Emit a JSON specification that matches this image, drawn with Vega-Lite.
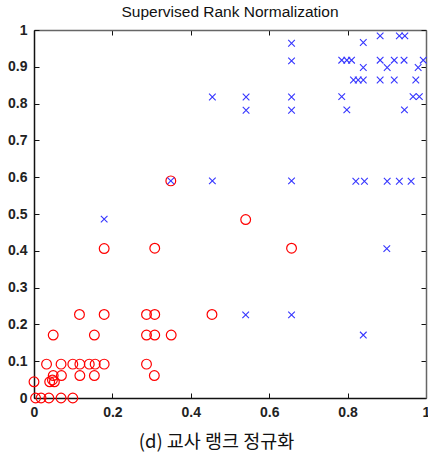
{
  "$schema": "https://vega.github.io/schema/vega-lite/v6.json",
  "autosize": "none",
  "padding": {"left": 34, "top": 30, "right": 2, "bottom": 55},
  "width": 392,
  "height": 368,
  "title": {"text": "Supervised Rank Normalization", "font": "Liberation Sans", "fontSize": 15.5, "fontWeight": "normal", "color": "#111", "offset": 3, "anchor": "middle"},
  "config": {"view": {"stroke": null}},
  "data": {"values": [
    {"x": 0.179, "y": 0.486, "c": "neg"}, {"x": 0.349, "y": 0.590, "c": "neg"}, {"x": 0.455, "y": 0.818, "c": "neg"}, {"x": 0.455, "y": 0.590, "c": "neg"},
    {"x": 0.541, "y": 0.818, "c": "neg"}, {"x": 0.541, "y": 0.782, "c": "neg"}, {"x": 0.540, "y": 0.226, "c": "neg"}, {"x": 0.657, "y": 0.964, "c": "neg"},
    {"x": 0.657, "y": 0.916, "c": "neg"}, {"x": 0.657, "y": 0.818, "c": "neg"}, {"x": 0.657, "y": 0.782, "c": "neg"}, {"x": 0.657, "y": 0.590, "c": "neg"},
    {"x": 0.657, "y": 0.226, "c": "neg"}, {"x": 0.785, "y": 0.918, "c": "neg"}, {"x": 0.798, "y": 0.918, "c": "neg"}, {"x": 0.810, "y": 0.918, "c": "neg"},
    {"x": 0.785, "y": 0.819, "c": "neg"}, {"x": 0.798, "y": 0.783, "c": "neg"}, {"x": 0.815, "y": 0.864, "c": "neg"}, {"x": 0.827, "y": 0.864, "c": "neg"},
    {"x": 0.840, "y": 0.864, "c": "neg"}, {"x": 0.840, "y": 0.898, "c": "neg"}, {"x": 0.840, "y": 0.966, "c": "neg"}, {"x": 0.821, "y": 0.589, "c": "neg"},
    {"x": 0.843, "y": 0.589, "c": "neg"}, {"x": 0.840, "y": 0.171, "c": "neg"}, {"x": 0.883, "y": 0.984, "c": "neg"}, {"x": 0.883, "y": 0.918, "c": "neg"},
    {"x": 0.883, "y": 0.864, "c": "neg"}, {"x": 0.901, "y": 0.898, "c": "neg"}, {"x": 0.901, "y": 0.589, "c": "neg"}, {"x": 0.900, "y": 0.406, "c": "neg"},
    {"x": 0.919, "y": 0.918, "c": "neg"}, {"x": 0.919, "y": 0.864, "c": "neg"}, {"x": 0.932, "y": 0.589, "c": "neg"}, {"x": 0.932, "y": 0.984, "c": "neg"},
    {"x": 0.946, "y": 0.984, "c": "neg"}, {"x": 0.944, "y": 0.918, "c": "neg"}, {"x": 0.945, "y": 0.783, "c": "neg"}, {"x": 0.962, "y": 0.589, "c": "neg"},
    {"x": 0.967, "y": 0.819, "c": "neg"}, {"x": 0.983, "y": 0.819, "c": "neg"}, {"x": 0.974, "y": 0.864, "c": "neg"}, {"x": 0.980, "y": 0.898, "c": "neg"},
    {"x": 0.993, "y": 0.918, "c": "neg"},
    {"x": 0.349, "y": 0.590, "c": "pos"}, {"x": 0.540, "y": 0.485, "c": "pos"}, {"x": 0.657, "y": 0.407, "c": "pos"}, {"x": 0.308, "y": 0.407, "c": "pos"},
    {"x": 0.179, "y": 0.406, "c": "pos"}, {"x": 0.454, "y": 0.227, "c": "pos"}, {"x": 0.308, "y": 0.227, "c": "pos"}, {"x": 0.287, "y": 0.227, "c": "pos"},
    {"x": 0.179, "y": 0.227, "c": "pos"}, {"x": 0.116, "y": 0.227, "c": "pos"}, {"x": 0.049, "y": 0.171, "c": "pos"}, {"x": 0.154, "y": 0.171, "c": "pos"},
    {"x": 0.287, "y": 0.171, "c": "pos"}, {"x": 0.308, "y": 0.171, "c": "pos"}, {"x": 0.350, "y": 0.171, "c": "pos"},
    {"x": 0.032, "y": 0.092, "c": "pos"}, {"x": 0.069, "y": 0.092, "c": "pos"}, {"x": 0.099, "y": 0.092, "c": "pos"}, {"x": 0.117, "y": 0.092, "c": "pos"},
    {"x": 0.141, "y": 0.092, "c": "pos"}, {"x": 0.156, "y": 0.092, "c": "pos"}, {"x": 0.179, "y": 0.092, "c": "pos"}, {"x": 0.287, "y": 0.092, "c": "pos"},
    {"x": 0.049, "y": 0.061, "c": "pos"}, {"x": 0.070, "y": 0.061, "c": "pos"}, {"x": 0.117, "y": 0.061, "c": "pos"}, {"x": 0.154, "y": 0.061, "c": "pos"},
    {"x": 0.307, "y": 0.061, "c": "pos"},
    {"x": 0.000, "y": 0.044, "c": "pos"}, {"x": 0.040, "y": 0.044, "c": "pos"}, {"x": 0.047, "y": 0.049, "c": "pos"}, {"x": 0.052, "y": 0.044, "c": "pos"},
    {"x": 0.004, "y": 0.000, "c": "pos"}, {"x": 0.018, "y": 0.000, "c": "pos"}, {"x": 0.038, "y": 0.000, "c": "pos"}, {"x": 0.069, "y": 0.000, "c": "pos"},
    {"x": 0.099, "y": 0.000, "c": "pos"}
  ]},
  "resolve": {"axis": {"x": "independent", "y": "independent"}},
  "layer": [
    {
      "transform": [{"filter": "datum.c === 'pos'"}],
      "mark": {"type": "point", "shape": "circle", "filled": false, "stroke": "#ff0000", "strokeWidth": 1.2, "size": 95, "clip": false, "opacity": 1},
      "encoding": {
        "x": {"field": "x", "type": "quantitative", "scale": {"domain": [0, 1], "nice": false, "zero": false},
          "axis": {"orient": "bottom", "title": "(d) 교사 랭크 정규화", "titleFont": "Noto Sans CJK KR", "titleFontSize": 18.5, "titleFontWeight": "normal", "titleColor": "#111",
            "titleX": 182, "titleY": 49, "titleBaseline": "alphabetic", "titleAlign": "center", "titleAnchor": null,
            "values": [0, 0.2, 0.4, 0.6, 0.8, 1], "format": "~g", "grid": false, "tickSize": -5, "tickColor": "#111", "tickWidth": 1,
            "domainColor": "#111", "domainWidth": 1.5, "labelFont": "Liberation Sans", "labelFontSize": 14, "labelFontWeight": "bold", "labelColor": "#222",
            "labelPadding": 12, "labelFlush": false, "labelOverlap": false}},
        "y": {"field": "y", "type": "quantitative", "scale": {"domain": [0, 1], "nice": false, "zero": false},
          "axis": {"orient": "left", "title": null, "values": [0, 0.1, 0.2, 0.3, 0.4, 0.5, 0.6, 0.7, 0.8, 0.9, 1], "format": "~g", "grid": false,
            "tickSize": -5, "tickColor": "#111", "tickWidth": 1, "domainColor": "#111", "domainWidth": 1.5,
            "labelFont": "Liberation Sans", "labelFontSize": 14, "labelFontWeight": "bold", "labelColor": "#222", "labelPadding": 12, "labelFlush": false, "labelOverlap": false}}
      }
    },
    {
      "transform": [{"filter": "datum.c === 'neg'"}],
      "mark": {"type": "point", "shape": "M-1,-1L1,1M-1,1L1,-1", "filled": false, "stroke": "#3535ff", "strokeWidth": 1.1, "size": 44, "clip": false, "opacity": 1},
      "encoding": {
        "x": {"field": "x", "type": "quantitative",
          "axis": {"orient": "top", "title": null, "labels": false, "values": [0, 0.2, 0.4, 0.6, 0.8, 1], "grid": false, "tickSize": -5, "tickColor": "#111", "tickWidth": 1, "domainColor": "#666", "domainWidth": 1.5}},
        "y": {"field": "y", "type": "quantitative",
          "axis": {"orient": "right", "title": null, "labels": false, "values": [0, 0.1, 0.2, 0.3, 0.4, 0.5, 0.6, 0.7, 0.8, 0.9, 1], "grid": false, "tickSize": -5, "tickColor": "#111", "tickWidth": 1, "domainColor": "#666", "domainWidth": 1.5}}
      }
    }
  ]
}
